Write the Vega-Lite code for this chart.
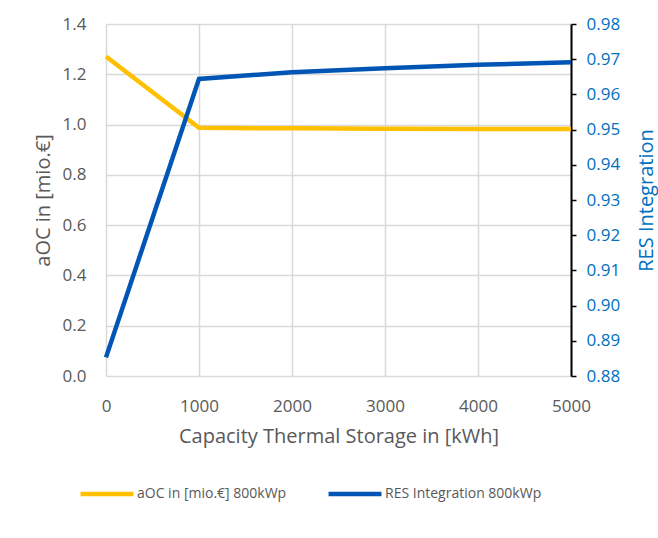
{
  "$schema": "https://vega.github.io/schema/vega-lite/v6.json",
  "autosize": {"type": "none"},
  "padding": {"left": 106, "top": 24, "right": 87, "bottom": 162},
  "width": 465,
  "height": 352,
  "background": "white",
  "config": {
    "font": "Open Sans",
    "view": {"stroke": null},
    "axis": {"labelFont": "Open Sans", "titleFont": "Open Sans", "titleFontWeight": "normal"}
  },
  "data": {
    "values": [
      {"cap": 0, "aoc": 1.271, "res": 0.8853},
      {"cap": 1000, "aoc": 0.987, "res": 0.9644},
      {"cap": 2000, "aoc": 0.985, "res": 0.9663},
      {"cap": 3000, "aoc": 0.983, "res": 0.9674},
      {"cap": 4000, "aoc": 0.982, "res": 0.9684},
      {"cap": 5000, "aoc": 0.982, "res": 0.9691}
    ]
  },
  "encoding": {
    "x": {
      "field": "cap", "type": "quantitative",
      "scale": {"domain": [0, 5000], "nice": false},
      "axis": {
        "values": [0, 1000, 2000, 3000, 4000, 5000], "format": "d",
        "title": "Capacity Thermal Storage in [kWh]",
        "titleFontSize": 20, "titleColor": "#595959", "titlePadding": 12,
        "labelFontSize": 17, "labelColor": "#595959", "labelPadding": 22, "labelFlush": false,
        "ticks": false, "domain": false,
        "grid": true, "gridColor": "#d9d9d9", "gridWidth": 1.5
      }
    }
  },
  "layer": [
    {
      "mark": {"type": "line", "strokeWidth": 4.5, "strokeCap": "butt"},
      "encoding": {
        "y": {
          "field": "aoc", "type": "quantitative",
          "scale": {"domain": [0, 1.4], "nice": false},
          "axis": {
            "values": [0, 0.2, 0.4, 0.6, 0.8, 1.0, 1.2, 1.4], "format": ".1f",
            "title": "aOC in [mio.€]", "titleFontSize": 20, "titleColor": "#595959", "titlePadding": 9,
            "labelFontSize": 17, "labelColor": "#595959", "labelPadding": 20,
            "ticks": false, "domain": false,
            "grid": true, "gridColor": "#d9d9d9", "gridWidth": 1.5
          }
        },
        "color": {
          "datum": "aOC in [mio.€] 800kWp",
          "type": "nominal",
          "scale": {"domain": ["aOC in [mio.€] 800kWp", "RES Integration 800kWp"], "range": ["#FFC000", "#0055B5"]},
          "legend": {
            "title": null, "orient": "none", "legendX": -28, "legendY": 441, "direction": "horizontal",
            "symbolType": "stroke", "symbolSize": 2800, "symbolStrokeWidth": 4.5,
            "labelFontSize": 14, "labelColor": "#595959", "labelFont": "Open Sans",
            "columnPadding": 32, "symbolOffset": 0, "labelOffset": 1
          }
        }
      }
    },
    {
      "mark": {"type": "line", "strokeWidth": 4.5, "strokeCap": "butt"},
      "encoding": {
        "y": {
          "field": "res", "type": "quantitative",
          "scale": {"domain": [0.88, 0.98], "nice": false},
          "axis": {
            "orient": "right",
            "values": [0.88, 0.89, 0.90, 0.91, 0.92, 0.93, 0.94, 0.95, 0.96, 0.97, 0.98], "format": ".2f",
            "title": "RES Integration", "titleFontSize": 20, "titleColor": "#0070C0",
            "titleAngle": 270, "titleBaseline": "top", "titleAlign": "center",
            "titleX": 65, "titleY": 176,
            "labelFontSize": 17, "labelColor": "#0070C0", "labelPadding": 10,
            "ticks": true, "tickColor": "black", "tickSize": 5, "tickWidth": 1.5,
            "domain": true, "domainColor": "black", "domainWidth": 2,
            "grid": false
          }
        },
        "color": {"datum": "RES Integration 800kWp", "type": "nominal"}
      }
    }
  ],
  "resolve": {"scale": {"y": "independent"}}
}
